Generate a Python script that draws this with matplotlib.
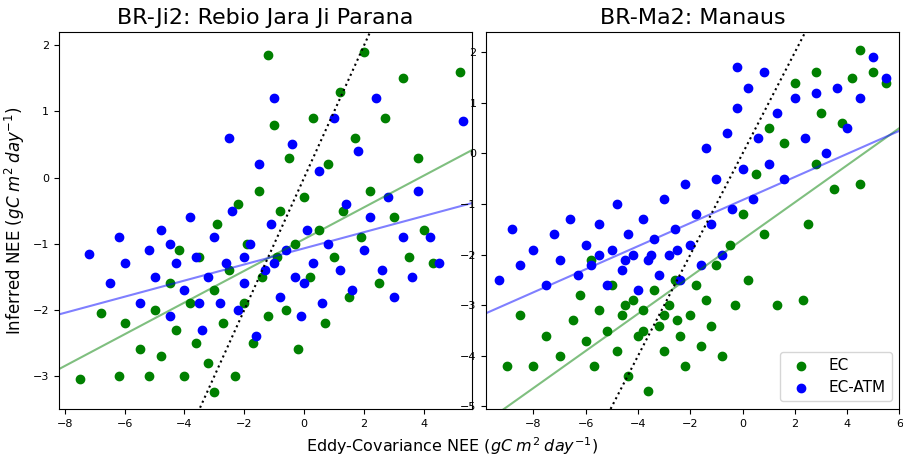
import numpy as np
import matplotlib.pyplot as plt

# left panel: BR-Ji2
ji_ec = [(-7.5,-3.05),(-6.2,-3.0),(-6.0,-2.2),(-5.5,-2.6),(-5.2,-3.0),(-5.0,-2.0),(-4.8,-2.7),(-4.5,-1.6),
         (-4.3,-2.3),(-4.0,-3.0),(-3.8,-1.9),(-3.6,-2.5),(-3.5,-1.2),(-3.2,-2.8),(-3.0,-1.7),(-2.9,-0.7),
         (-2.7,-2.2),(-2.5,-1.4),(-2.3,-3.0),(-2.2,-0.4),(-2.0,-1.9),(-1.9,-1.0),(-1.7,-2.5),(-1.5,-0.2),
         (-1.4,-1.5),(-1.2,-2.1),(-1.0,0.8),(-0.9,-1.2),(-0.8,-0.5),(-0.6,-2.0),(-0.5,0.3),(-0.3,-1.0),
         (-0.2,-2.6),(0.0,-0.3),(0.2,-1.5),(0.3,0.9),(0.5,-0.8),(0.7,-2.2),(0.8,0.2),(1.0,-1.2),(1.2,1.3),
         (1.3,-0.5),(1.5,-1.8),(1.7,0.6),(1.9,-0.9),(2.0,1.9),(2.2,-0.2),(2.5,-1.6),(2.7,0.9),(3.0,-0.6),
         (3.3,1.5),(3.5,-1.2),(3.8,0.3),(4.0,-0.8),(4.3,-1.3),(5.2,1.6),(-1.2,1.85),(-3.0,-3.25),
         (-4.2,-1.1),(-6.8,-2.05)]
ji_atm = [(-7.2,-1.15),(-6.5,-1.6),(-6.2,-0.9),(-6.0,-1.3),(-5.5,-1.9),(-5.2,-1.1),(-5.0,-1.5),(-4.8,-0.8),
          (-4.5,-2.1),(-4.3,-1.3),(-4.0,-1.7),(-3.8,-0.6),(-3.6,-1.2),(-3.4,-2.3),(-3.2,-1.5),(-3.0,-0.9),
          (-2.8,-1.9),(-2.6,-1.3),(-2.4,-0.5),(-2.2,-2.0),(-2.0,-1.6),(-1.8,-1.0),(-1.6,-2.4),(-1.5,0.2),
          (-1.3,-1.4),(-1.1,-0.7),(-1.0,1.2),(-0.8,-1.8),(-0.6,-1.1),(-0.4,0.5),(-0.3,-1.5),(-0.1,-2.1),
          (0.1,-0.8),(0.3,-1.3),(0.5,0.1),(0.6,-1.9),(0.8,-1.0),(1.0,0.9),(1.2,-1.4),(1.4,-0.4),(1.6,-1.7),
          (1.8,0.4),(2.0,-1.1),(2.2,-0.6),(2.4,1.2),(2.6,-1.4),(2.8,-0.3),(3.0,-1.8),(3.3,-0.9),(3.6,-1.5),
          (3.8,-0.2),(4.2,-0.9),(4.5,-1.3),(5.3,0.85),(-2.5,0.6),(-3.5,-1.9),(-1.0,-1.3),(-2.0,-1.2),
          (0.0,-1.6),(-4.5,-1.0)]

# right panel: BR-Ma2
ma_ec = [(-9.0,-4.2),(-8.0,-4.2),(-7.5,-3.6),(-7.0,-4.0),(-6.5,-3.3),(-6.2,-2.8),(-6.0,-3.7),(-5.7,-4.2),
         (-5.5,-3.1),(-5.2,-3.5),(-5.0,-2.6),(-4.8,-3.9),(-4.6,-3.2),(-4.4,-4.4),(-4.2,-2.9),(-4.0,-3.6),
         (-3.8,-3.1),(-3.6,-4.7),(-3.4,-2.7),(-3.2,-3.4),(-3.0,-3.9),(-2.8,-3.0),(-2.6,-2.5),(-2.4,-3.6),
         (-2.2,-4.2),(-2.0,-3.2),(-1.8,-2.6),(-1.6,-3.8),(-1.4,-2.9),(-1.2,-3.4),(-1.0,-2.2),(-0.8,-4.0),
         (-0.5,-1.8),(-0.3,-3.0),(0.0,-1.2),(0.2,-2.5),(0.5,-0.4),(0.8,-1.6),(1.0,0.5),(1.3,-3.0),(1.6,0.2),
         (2.0,1.4),(2.3,-2.9),(2.5,-1.4),(2.8,-0.2),(3.0,0.8),(3.5,-0.7),(3.8,0.6),(4.2,1.5),(4.5,-0.6),
         (5.0,1.6),(5.5,1.4),(4.5,2.05),(2.8,1.6),(-3.8,-3.5),(-3.0,-3.2),(-4.5,-3.0),(-2.5,-3.3),
         (-5.8,-2.1),(-8.5,-3.2)]
ma_atm = [(-9.3,-2.5),(-8.8,-1.5),(-8.5,-2.2),(-8.0,-1.9),(-7.5,-2.6),(-7.2,-1.6),(-7.0,-2.1),(-6.6,-1.3),
          (-6.3,-2.4),(-6.0,-1.8),(-5.8,-2.2),(-5.5,-1.4),(-5.2,-2.6),(-5.0,-1.9),(-4.8,-1.0),(-4.6,-2.3),
          (-4.4,-1.6),(-4.2,-2.0),(-4.0,-2.7),(-3.8,-1.3),(-3.6,-2.1),(-3.4,-1.7),(-3.2,-2.4),(-3.0,-0.9),
          (-2.8,-2.0),(-2.6,-1.5),(-2.4,-2.5),(-2.2,-0.6),(-2.0,-1.8),(-1.8,-1.2),(-1.6,-2.2),(-1.4,0.1),
          (-1.2,-1.4),(-1.0,-0.5),(-0.8,-2.0),(-0.6,0.4),(-0.4,-1.1),(-0.2,0.9),(0.0,-0.3),(0.2,1.3),
          (0.4,-0.9),(0.6,0.3),(0.8,1.6),(1.0,-0.2),(1.3,0.8),(1.6,-0.5),(2.0,1.1),(2.4,0.3),(2.8,1.2),
          (3.2,0.0),(3.6,1.3),(4.0,0.5),(4.5,1.1),(5.0,1.9),(5.5,1.5),(-3.5,-2.0),(-4.5,-2.1),(-2.5,-1.9),
          (-5.5,-2.0),(-0.2,1.7)]

# fitted lines (slope, intercept)
ji_fit = {'ec': (0.24, -0.93), 'atm': (0.122, -1.07)}
ma_fit = {'ec': (0.367, -1.7), 'atm': (0.228, -0.92)}

panels = [("BR-Ji2: Rebio Jara Ji Parana", ji_ec, ji_atm, ji_fit, (-8.2, 5.6), (-3.5, 2.2)),
          ("BR-Ma2: Manaus", ma_ec, ma_atm, ma_fit, (-9.8, 6), (-5.05, 2.4))]

fig, axes = plt.subplots(1, 2, figsize=(9.04, 4.57), dpi=100)
for ax, (title, ec, atm, fit, xl, yl) in zip(axes, panels):
    ec = np.array(ec); atm = np.array(atm)
    ax.scatter(ec[:, 0], ec[:, 1], c='green', label='EC')
    ax.scatter(atm[:, 0], atm[:, 1], c='blue', label='EC-ATM')
    xs = np.array(xl)
    ax.plot(xs, fit['ec'][0] * xs + fit['ec'][1], color='green', alpha=0.5)
    ax.plot(xs, fit['atm'][0] * xs + fit['atm'][1], color='blue', alpha=0.5)
    ax.plot([-10, 6], [-10, 6], 'k:')
    ax.set_xlim(xl); ax.set_ylim(yl)
    ax.set_title(title, fontsize=16)
    ax.tick_params(labelsize=8)

axes[0].set_ylabel(r'Inferred NEE ($gC\; m^2\; day^{-1}$)', fontsize=12)
axes[1].legend(loc='lower right', fontsize=11)
fig.text(0.5, 0.0, r'Eddy-Covariance NEE ($gC\; m^2\; day^{-1}$)', fontsize=11.5,
         ha='center', va='bottom')
plt.subplots_adjust(left=0.065, right=0.995, top=0.93, bottom=0.105, wspace=0.035)
plt.savefig('out.png')
